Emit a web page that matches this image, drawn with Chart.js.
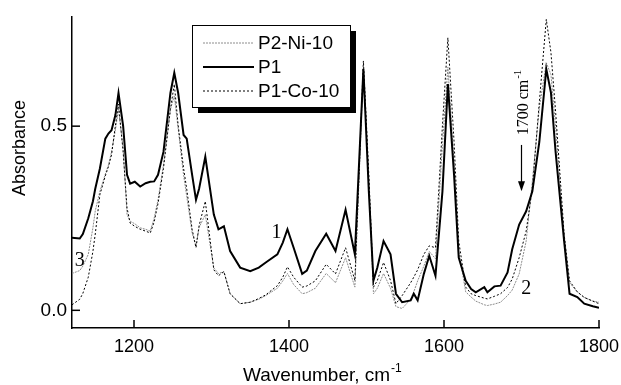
<!DOCTYPE html>
<html>
<head>
<meta charset="utf-8">
<script src="https://cdn.jsdelivr.net/npm/chart.js@4/dist/chart.umd.min.js"></script>
<style>
  html, body { margin: 0; padding: 0; background: #fff; }
  #wrap { width: 621px; height: 385px; }
</style>
</head>
<body>
<div id="wrap"><canvas id="irChart" width="621" height="385"></canvas></div>
<script>
// wavenumbers (cm-1)
const wavenumbers = [1120,1130,1134,1141,1147,1150,1156,1163,1167,1171,1176,1180,1186,1191,1195,1201,1208,1215,1221,1226,1231,1238,1247,1252,1257,1264,1268,1275,1280,1284,1292,1303,1309,1316,1324,1337,1350,1361,1370,1385,1392,1398,1406,1417,1423,1434,1448,1460,1473,1485,1496,1503,1509,1514,1522,1531,1538,1546,1557,1561,1566,1574,1581,1589,1598,1605,1613,1619,1628,1635,1641,1652,1656,1665,1673,1682,1688,1697,1706,1714,1723,1732,1738,1744,1755,1762,1772,1781,1792,1800];

const p1 = [0.197,0.195,0.207,0.25,0.296,0.33,0.385,0.466,0.48,0.489,0.53,0.59,0.50,0.368,0.344,0.349,0.336,0.345,0.349,0.35,0.368,0.43,0.59,0.645,0.59,0.476,0.466,0.368,0.30,0.33,0.417,0.26,0.22,0.228,0.161,0.116,0.106,0.116,0.13,0.152,0.184,0.22,0.17,0.099,0.108,0.161,0.208,0.161,0.273,0.152,0.655,0.323,0.081,0.116,0.188,0.152,0.045,0.022,0.027,0.045,0.027,0.099,0.148,0.094,0.323,0.614,0.367,0.143,0.08,0.058,0.049,0.063,0.049,0.065,0.067,0.103,0.166,0.233,0.269,0.323,0.457,0.655,0.591,0.43,0.188,0.045,0.036,0.018,0.011,0.007];

const p1Co10 = [0.015,0.03,0.046,0.09,0.16,0.207,0.314,0.365,0.39,0.422,0.502,0.56,0.43,0.278,0.237,0.228,0.22,0.215,0.21,0.24,0.29,0.385,0.546,0.614,0.502,0.385,0.33,0.22,0.17,0.23,0.296,0.11,0.094,0.105,0.045,0.018,0.022,0.032,0.042,0.067,0.09,0.118,0.09,0.063,0.066,0.08,0.125,0.099,0.17,0.081,0.677,0.368,0.063,0.081,0.13,0.081,0.018,0.04,0.075,0.09,0.11,0.152,0.175,0.17,0.502,0.74,0.457,0.188,0.063,0.045,0.04,0.033,0.031,0.038,0.045,0.062,0.085,0.143,0.215,0.331,0.565,0.79,0.70,0.54,0.206,0.08,0.05,0.035,0.025,0.018];

const p2Ni10 = [0.10,0.108,0.12,0.152,0.224,0.27,0.323,0.37,0.394,0.43,0.49,0.546,0.44,0.26,0.242,0.235,0.224,0.22,0.215,0.25,0.30,0.394,0.546,0.582,0.493,0.367,0.31,0.21,0.175,0.225,0.26,0.115,0.1,0.105,0.045,0.018,0.022,0.03,0.04,0.06,0.08,0.1,0.07,0.045,0.048,0.06,0.1,0.075,0.143,0.063,0.66,0.34,0.045,0.06,0.1,0.06,0.01,0.005,0.03,0.05,0.08,0.12,0.16,0.14,0.45,0.66,0.4,0.16,0.05,0.036,0.025,0.015,0.013,0.017,0.022,0.04,0.055,0.099,0.188,0.35,0.55,0.672,0.64,0.5,0.206,0.075,0.05,0.035,0.025,0.022];

const xTicks = [1200, 1400, 1600, 1800];
const yTicks = [0.0, 0.5];
const legendOrder = ['P2-Ni-10', 'P1', 'P1-Co-10'];

const SANS = '"Liberation Sans", Arial, sans-serif';
const SERIF = '"Liberation Serif", "Times New Roman", serif';

function toPoints(ys) {
    return wavenumbers.map((x, i) => ({ x: x, y: ys[i] }));
}

// tick marks point inwards, plus labels, legend box and arrow
const decorations = {
    id: 'decorations',
    afterDraw(chart) {
        const ctx = chart.ctx;
        const area = chart.chartArea;
        const xs = chart.scales.x;
        const ys = chart.scales.y;
        ctx.save();

        ctx.strokeStyle = '#000';
        ctx.lineWidth = 1.5;
        xs.ticks.forEach(t => {
            const px = xs.getPixelForValue(t.value);
            ctx.beginPath();
            ctx.moveTo(px, area.bottom);
            ctx.lineTo(px, area.bottom - 8);
            ctx.stroke();
        });
        ys.ticks.forEach(t => {
            const py = ys.getPixelForValue(t.value);
            ctx.beginPath();
            ctx.moveTo(area.left, py);
            ctx.lineTo(area.left + 8, py);
            ctx.stroke();
        });

        // axis titles
        ctx.fillStyle = '#000';
        ctx.font = '19px ' + SANS;
        ctx.textAlign = 'left';
        ctx.textBaseline = 'alphabetic';
        const xTitle = 'Wavenumber, cm';
        ctx.fillText(xTitle, 243, 381);
        const w = ctx.measureText(xTitle).width;
        ctx.font = '12px ' + SANS;
        ctx.fillText('-1', 243 + w + 1, 372);

        ctx.save();
        ctx.translate(25, 148);
        ctx.rotate(-Math.PI / 2);
        ctx.font = '18px ' + SANS;
        ctx.textAlign = 'center';
        ctx.fillText('Absorbance', 0, 0);
        ctx.restore();

        // curve numbers
        ctx.font = '20px ' + SERIF;
        ctx.textAlign = 'center';
        ctx.fillText('1', xs.getPixelForValue(1384), ys.getPixelForValue(0.196));
        ctx.fillText('2', xs.getPixelForValue(1706), ys.getPixelForValue(0.045));
        ctx.fillText('3', xs.getPixelForValue(1130), ys.getPixelForValue(0.121));

        // 1700 cm-1 marker
        const ax = xs.getPixelForValue(1700);
        ctx.save();
        ctx.translate(ax + 6, ys.getPixelForValue(0.475));
        ctx.rotate(-Math.PI / 2);
        ctx.textAlign = 'left';
        ctx.font = '16px ' + SERIF;
        ctx.fillText('1700 cm', 0, 0);
        const tw = ctx.measureText('1700 cm').width;
        ctx.font = '11px ' + SERIF;
        ctx.fillText('-1', tw + 1, -7);
        ctx.restore();

        const yTop = ys.getPixelForValue(0.449);
        const yTip = ys.getPixelForValue(0.323);
        ctx.lineWidth = 1.2;
        ctx.beginPath();
        ctx.moveTo(ax, yTop);
        ctx.lineTo(ax, yTip - 6);
        ctx.stroke();
        ctx.beginPath();
        ctx.moveTo(ax, yTip);
        ctx.lineTo(ax - 3.5, yTip - 10);
        ctx.lineTo(ax + 3.5, yTip - 10);
        ctx.closePath();
        ctx.fill();

        // legend with drop shadow
        const bx = 192, by = 25, bw = 158, bh = 82;
        ctx.fillStyle = '#000';
        ctx.fillRect(bx + 6, by + 6, bw, bh);
        ctx.fillStyle = '#fff';
        ctx.fillRect(bx, by, bw, bh);
        ctx.strokeStyle = '#000';
        ctx.lineWidth = 1;
        ctx.strokeRect(bx + 0.5, by + 0.5, bw, bh);

        ctx.font = '19px ' + SANS;
        ctx.textAlign = 'left';
        ctx.textBaseline = 'middle';
        legendOrder.forEach((name, i) => {
            const ds = chart.data.datasets.find(d => d.label === name);
            const ly = by + 18 + i * 24;
            ctx.save();
            ctx.strokeStyle = ds.borderColor;
            ctx.lineWidth = ds.borderWidth;
            ctx.setLineDash(ds.borderDash || []);
            ctx.beginPath();
            ctx.moveTo(bx + 11, ly);
            ctx.lineTo(bx + 62, ly);
            ctx.stroke();
            ctx.restore();
            ctx.fillStyle = '#000';
            ctx.fillText(name, bx + 66, ly + 1);
        });

        ctx.restore();
    }
};

new Chart(document.getElementById('irChart'), {
    type: 'line',
    data: {
        datasets: [
            { label: 'P1', data: toPoints(p1), borderColor: '#000', borderWidth: 2 },
            { label: 'P1-Co-10', data: toPoints(p1Co10), borderColor: '#000', borderWidth: 1, borderDash: [2, 2] },
            { label: 'P2-Ni-10', data: toPoints(p2Ni10), borderColor: '#8c8c8c', borderWidth: 1, borderDash: [2, 1] }
        ]
    },
    options: {
        responsive: false,
        animation: false,
        layout: { padding: { top: 13, right: 22, left: 0, bottom: 0 } },
        elements: { point: { radius: 0 }, line: { tension: 0, fill: false } },
        plugins: {
            legend: { display: false },
            tooltip: { enabled: false }
        },
        scales: {
            x: {
                type: 'linear',
                min: 1120,
                max: 1800,
                afterBuildTicks: (scale) => { scale.ticks = xTicks.map(v => ({ value: v })); },
                afterFit: (scale) => { scale.height = 57; },
                ticks: {
                    font: { size: 18, family: SANS },
                    color: '#000',
                    padding: 0,
                    callback: (v) => String(v)
                },
                // invisible outward tick space pushes labels down without widening side padding
                grid: { display: true, drawOnChartArea: false, drawTicks: true, tickLength: 8, tickColor: 'rgba(0,0,0,0)' },
                border: { display: true, color: '#000', width: 1.5 }
            },
            y: {
                type: 'linear',
                min: -0.048,
                max: 0.798,
                afterBuildTicks: (scale) => { scale.ticks = yTicks.map(v => ({ value: v })); },
                afterFit: (scale) => { scale.width = 72; },
                ticks: {
                    font: { size: 19, family: SANS },
                    color: '#000',
                    padding: 5,
                    callback: (v) => v.toFixed(1)
                },
                grid: { display: true, drawOnChartArea: false, drawTicks: false },
                border: { display: true, color: '#000', width: 1.5 }
            }
        }
    },
    plugins: [decorations]
});
</script>
</body>
</html>
